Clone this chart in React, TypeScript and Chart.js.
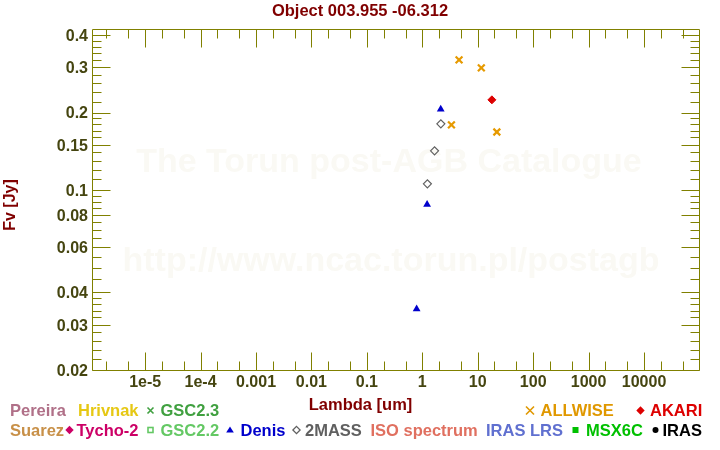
import React, { useEffect, useRef } from "react";
import { Chart, registerables } from "chart.js";

Chart.register(...registerables);

// ---------- text ----------
const TITLE = "Object 003.955 -06.312";
const X_TITLE = "Lambda [um]";
const Y_TITLE = "Fv [Jy]";
const WATERMARK_1 = "The Torun post-AGB Catalogue";
const WATERMARK_2 = "http://www.ncac.torun.pl/postagb";

// ---------- axes ----------
const X_MIN = 1.1e-6;
const X_MAX = 9.8e4;
const Y_MIN = 0.02;
const Y_MAX = 0.422;

const xMajorTicks = [1e-5, 1e-4, 1e-3, 1e-2, 1e-1, 1, 10, 100, 1000, 10000];
const xTickLabels = ["1e-5", "1e-4", "0.001", "0.01", "0.1", "1", "10", "100", "1000", "10000"];
const xMinorTicks = [
  2e-6, 5e-6, 2e-5, 5e-5, 2e-4, 5e-4, 2e-3, 5e-3, 2e-2, 5e-2,
  0.2, 0.5, 2, 5, 20, 50, 200, 500, 2000, 5000, 20000, 50000,
];

const yMajorTicks = [0.4, 0.3, 0.2, 0.15, 0.1, 0.08, 0.06, 0.04, 0.03, 0.02];
const yTickLabels = ["0.4", "0.3", "0.2", "0.15", "0.1", "0.08", "0.06", "0.04", "0.03", "0.02"];
const yMinorTicks = [
  0.38, 0.36, 0.34, 0.32,
  0.28, 0.26, 0.24, 0.22,
  0.19, 0.18, 0.17, 0.16,
  0.14, 0.13, 0.12, 0.11,
  0.095, 0.09, 0.085,
  0.075, 0.07, 0.065,
  0.055, 0.05, 0.045,
  0.038, 0.036, 0.034, 0.032,
  0.028, 0.026, 0.024, 0.022,
];

// ---------- data (lambda in um, flux in Jy) ----------
const denisLambda = [0.79, 1.22, 2.15];
const denisFlux = [0.0345, 0.0878, 0.206];

const twoMassLambda = [1.235, 1.662, 2.159];
const twoMassFlux = [0.1057, 0.142, 0.1807];

const allwiseLambda = [3.35, 4.6, 11.6, 22.1];
const allwiseFlux = [0.179, 0.32, 0.298, 0.168];

const akariLambda = [18];
const akariFlux = [0.224];

// ---------- legend ----------
const legendLabels = [
  "Pereira", "Hrivnak", "GSC2.3", "ALLWISE", "AKARI",
  "Suarez", "Tycho-2", "GSC2.2", "Denis", "2MASS", "ISO spectrum", "IRAS LRS", "MSX6C", "IRAS",
];
const legendColors = [
  "#b07088", "#e6c814", "#40a040", "#e09800", "#dd0000",
  "#c89048", "#cc0066", "#64c864", "#0000cc", "#606060", "#e07060", "#6070d0", "#00c000", "#000000",
];
const legendMarkers = [
  "", "", "cross", "bigcross", "diamond",
  "", "diamond", "square", "triangle", "diamondOpen", "", "", "squareFilled", "circle",
];

// layout of legend entries: [textX, markerX, row]
const LEGEND_LAYOUT: [number, number, number][] = [
  [10, 0, 0], [78, 0, 0], [160.5, 150.5, 0], [540.5, 530, 0], [650, 640.5, 0],
  [10, 0, 1], [76.5, 69.5, 1], [160.5, 150.5, 1], [240.5, 230, 1], [305, 296.5, 1],
  [370.5, 0, 1], [486, 0, 1], [586, 575.5, 1], [662.5, 655.5, 1],
];
const LEGEND_ROW_BASELINE = [416, 435.5];
const LEGEND_ROW_CENTER = [410.5, 430];

const FONT = "'Liberation Sans', Arial, Helvetica, sans-serif";
const AXIS_COLOR = "#808000";
const TICK_LABEL_COLOR = "#454510";
const TITLE_COLOR = "#800000";

function drawMarker(ctx: CanvasRenderingContext2D, type: string, x: number, y: number, color: string) {
  ctx.save();
  ctx.fillStyle = color;
  ctx.strokeStyle = color;
  ctx.beginPath();
  switch (type) {
    case "cross": {
      const s = 3;
      ctx.lineWidth = 1.6;
      ctx.moveTo(x - s, y - s); ctx.lineTo(x + s, y + s);
      ctx.moveTo(x + s, y - s); ctx.lineTo(x - s, y + s);
      ctx.stroke();
      break;
    }
    case "bigcross": {
      const s = 4;
      ctx.lineWidth = 1.6;
      ctx.moveTo(x - s, y - s); ctx.lineTo(x + s, y + s);
      ctx.moveTo(x + s, y - s); ctx.lineTo(x - s, y + s);
      ctx.stroke();
      break;
    }
    case "diamond": {
      const s = 4.2;
      ctx.moveTo(x, y - s); ctx.lineTo(x + s, y); ctx.lineTo(x, y + s); ctx.lineTo(x - s, y);
      ctx.closePath();
      ctx.fill();
      break;
    }
    case "diamondOpen": {
      const s = 3.6;
      ctx.lineWidth = 1.3;
      ctx.moveTo(x, y - s); ctx.lineTo(x + s, y); ctx.lineTo(x, y + s); ctx.lineTo(x - s, y);
      ctx.closePath();
      ctx.stroke();
      break;
    }
    case "square": {
      ctx.lineWidth = 1.6;
      ctx.strokeRect(x - 2.5, y - 2.5, 5, 5);
      break;
    }
    case "squareFilled": {
      ctx.fillRect(x - 3, y - 3, 6, 6);
      break;
    }
    case "triangle": {
      ctx.moveTo(x, y - 3.5); ctx.lineTo(x + 3.8, y + 2.5); ctx.lineTo(x - 3.8, y + 2.5);
      ctx.closePath();
      ctx.fill();
      break;
    }
    case "circle": {
      ctx.arc(x, y, 3, 0, Math.PI * 2);
      ctx.fill();
      break;
    }
  }
  ctx.restore();
}

const framePlugin = {
  id: "postagbFrame",
  beforeDatasetsDraw(chart: any) {
    const ctx: CanvasRenderingContext2D = chart.ctx;
    const { left, right, top, bottom } = chart.chartArea;
    const xs = chart.scales.x;
    const ys = chart.scales.y;

    // watermark
    ctx.save();
    ctx.font = `bold 34px ${FONT}`;
    ctx.fillStyle = "#faf9f4";
    ctx.textAlign = "center";
    ctx.textBaseline = "middle";
    ctx.fillText(WATERMARK_1, 389, 163);
    ctx.fillText(WATERMARK_2, 391, 262);
    ctx.restore();

    // frame + ticks
    ctx.save();
    ctx.strokeStyle = AXIS_COLOR;
    ctx.lineWidth = 1;
    const L = Math.round(left) + 0.5;
    const R = Math.round(right) + 0.5;
    const T = Math.round(top) + 0.5;
    const B = Math.round(bottom) + 0.5;
    ctx.beginPath();
    ctx.rect(L, T, R - L, B - T);

    const major = 18;
    const minor = 9;
    const xTick = (v: number, len: number) => {
      const p = Math.round(xs.getPixelForValue(v)) + 0.5;
      ctx.moveTo(p, B); ctx.lineTo(p, B - len);
      ctx.moveTo(p, T); ctx.lineTo(p, T + len);
    };
    const yTick = (v: number, len: number) => {
      const p = Math.round(ys.getPixelForValue(v)) + 0.5;
      ctx.moveTo(L, p); ctx.lineTo(L + len, p);
      ctx.moveTo(R, p); ctx.lineTo(R - len, p);
    };
    xMajorTicks.forEach((v) => xTick(v, major));
    xMinorTicks.forEach((v) => xTick(v, minor));
    yMajorTicks.forEach((v) => yTick(v, major));
    yMinorTicks.forEach((v) => yTick(v, minor));
    ctx.stroke();
    ctx.restore();
  },
  afterDraw(chart: any) {
    const ctx: CanvasRenderingContext2D = chart.ctx;
    ctx.save();
    ctx.font = `bold 16.5px ${FONT}`;
    ctx.fillStyle = TITLE_COLOR;
    ctx.textAlign = "center";
    ctx.textBaseline = "alphabetic";
    ctx.fillText(X_TITLE, 360.5, 410);

    ctx.save();
    ctx.translate(15, 205);
    ctx.rotate(-Math.PI / 2);
    ctx.font = `bold 16px ${FONT}`;
    ctx.fillText(Y_TITLE, 0, 0);
    ctx.restore();

    // legend
    ctx.textAlign = "left";
    legendLabels.forEach((label, i) => {
      const [tx, mx, row] = LEGEND_LAYOUT[i];
      const color = legendColors[i];
      if (legendMarkers[i]) drawMarker(ctx, legendMarkers[i], mx, LEGEND_ROW_CENTER[row], color);
      ctx.fillStyle = color;
      ctx.fillText(label, tx, LEGEND_ROW_BASELINE[row]);
    });
    ctx.restore();
  },
};

const toPoints = (xs: number[], ys: number[]) => xs.map((x, i) => ({ x, y: ys[i] }));

export default function App() {
  const canvasRef = useRef<HTMLCanvasElement | null>(null);

  useEffect(() => {
    if (!canvasRef.current) return;
    const tickFont = { family: FONT, size: 16, weight: "bold" as const };
    const chart = new Chart(canvasRef.current, {
      type: "scatter",
      data: {
        datasets: [
          {
            label: "2MASS",
            data: toPoints(twoMassLambda, twoMassFlux),
            pointStyle: "rectRot",
            pointRadius: 4,
            borderWidth: 1.2,
            borderColor: "#606060",
            backgroundColor: "rgba(255,255,255,0)",
          },
          {
            label: "Denis",
            data: toPoints(denisLambda, denisFlux),
            pointStyle: "triangle",
            pointRadius: 4.5,
            borderWidth: 0,
            borderColor: "#0000cc",
            backgroundColor: "#0000cc",
          },
          {
            label: "ALLWISE",
            data: toPoints(allwiseLambda, allwiseFlux),
            pointStyle: "crossRot",
            pointRadius: 4.8,
            borderWidth: 2.2,
            borderColor: "#e69a00",
            backgroundColor: "#e69a00",
          },
          {
            label: "AKARI",
            data: toPoints(akariLambda, akariFlux),
            pointStyle: "rectRot",
            pointRadius: 4,
            borderWidth: 1,
            borderColor: "#dd0000",
            backgroundColor: "#dd0000",
          },
        ],
      },
      options: {
        animation: false,
        responsive: false,
        events: [],
        layout: { padding: 0 },
        plugins: {
          legend: { display: false },
          tooltip: { enabled: false },
          title: {
            display: true,
            text: TITLE,
            color: TITLE_COLOR,
            font: { family: FONT, size: 16.5, weight: "bold" },
            padding: { top: 2, bottom: 7.2 },
          },
        },
        scales: {
          x: {
            type: "logarithmic",
            position: "bottom",
            min: X_MIN,
            max: X_MAX,
            bounds: "data",
            afterFit: (s: any) => { s.height = 80; },
            afterBuildTicks: (s: any) => { s.ticks = xMajorTicks.map((v) => ({ value: v })); },
            grid: { display: false, drawTicks: false },
            border: { display: false },
            ticks: {
              autoSkip: false,
              maxRotation: 0,
              minRotation: 0,
              padding: 3,
              color: TICK_LABEL_COLOR,
              font: tickFont,
              callback: (_v: any, i: number) => xTickLabels[i],
            },
          },
          y: {
            type: "logarithmic",
            position: "left",
            min: Y_MIN,
            max: Y_MAX,
            bounds: "data",
            afterFit: (s: any) => { s.width = 92; },
            afterBuildTicks: (s: any) => { s.ticks = yMajorTicks.map((v) => ({ value: v })); },
            grid: { display: false, drawTicks: false },
            border: { display: false },
            ticks: {
              autoSkip: false,
              padding: 4,
              labelOffset: 1.5,
              color: TICK_LABEL_COLOR,
              font: tickFont,
              callback: (_v: any, i: number) => yTickLabels[i],
            },
          },
          yRight: {
            type: "logarithmic",
            position: "right",
            min: Y_MIN,
            max: Y_MAX,
            bounds: "data",
            afterFit: (s: any) => { s.width = 21; },
            grid: { display: false, drawTicks: false },
            border: { display: false },
            ticks: { display: false },
          },
        },
      } as any,
      plugins: [framePlugin],
    });
    return () => chart.destroy();
  }, []);

  return (
    <div style={{ position: "absolute", left: 0, top: 0, width: 720, height: 450, background: "#ffffff" }}>
      <canvas ref={canvasRef} width={720} height={450} style={{ display: "block", width: 720, height: 450 }} />
    </div>
  );
}
